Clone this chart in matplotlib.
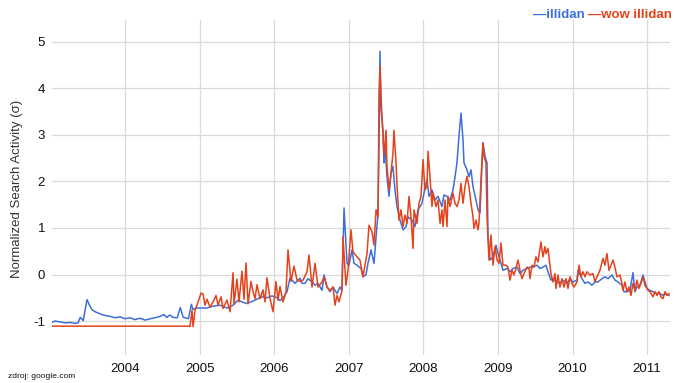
import matplotlib
matplotlib.use("Agg")
import matplotlib.pyplot as plt

plt.rcParams['font.family'] = ['Liberation Sans', 'DejaVu Sans']

# ---- data (decimal years, normalized search activity) ----
illidan_t = [2003.02, 2003.06, 2003.13, 2003.20, 2003.26, 2003.33, 2003.37, 2003.40, 2003.44,
             2003.49, 2003.53, 2003.56, 2003.60, 2003.67, 2003.73, 2003.80, 2003.87, 2003.93,
             2004.00, 2004.07, 2004.13, 2004.20, 2004.27, 2004.34, 2004.40, 2004.47, 2004.52,
             2004.56, 2004.60, 2004.64, 2004.70, 2004.74, 2004.78, 2004.85, 2004.89, 2004.91,
             2004.97,
             2005.099, 2005.180, 2005.273, 2005.367, 2005.448, 2005.515, 2005.582, 2005.635,
             2005.702, 2005.769, 2005.836, 2005.903, 2005.971, 2006.038, 2006.078, 2006.118,
             2006.172, 2006.212, 2006.279, 2006.346, 2006.373, 2006.413, 2006.453, 2006.507,
             2006.547, 2006.587, 2006.641, 2006.668, 2006.708, 2006.748, 2006.789, 2006.842,
             2006.882, 2006.909, 2006.936, 2006.976, 2007.003, 2007.043, 2007.070, 2007.110,
             2007.164, 2007.190, 2007.231, 2007.257, 2007.298, 2007.338, 2007.378, 2007.391,
             2007.405, 2007.418, 2007.432, 2007.458, 2007.472, 2007.485, 2007.512, 2007.539,
             2007.566, 2007.592, 2007.619, 2007.646, 2007.686, 2007.727, 2007.767, 2007.794,
             2007.847, 2007.887, 2007.928, 2007.981, 2008.008, 2008.048, 2008.075, 2008.115,
             2008.155, 2008.196, 2008.249, 2008.276, 2008.316, 2008.357, 2008.397, 2008.424,
             2008.450, 2008.477, 2008.504, 2008.531, 2008.544, 2008.584, 2008.611, 2008.638,
             2008.665, 2008.705, 2008.732, 2008.759, 2008.786, 2008.799, 2008.826, 2008.853,
             2008.866, 2008.893, 2008.933, 2008.973, 2009.000, 2009.040, 2009.067, 2009.121,
             2009.161, 2009.201, 2009.255, 2009.295, 2009.335, 2009.389, 2009.429, 2009.469,
             2009.523, 2009.563, 2009.603, 2009.643, 2009.670, 2009.710, 2009.737, 2009.791,
             2009.831, 2009.871, 2009.925, 2009.965, 2010.005, 2010.059, 2010.072, 2010.126,
             2010.166, 2010.206, 2010.260, 2010.300, 2010.340, 2010.394, 2010.434, 2010.475,
             2010.528, 2010.568, 2010.609, 2010.662, 2010.689, 2010.729, 2010.769, 2010.810,
             2010.836, 2010.863, 2010.903, 2010.944, 2010.997, 2011.038, 2011.078, 2011.131,
             2011.172, 2011.212, 2011.252, 2011.292]
illidan_v = [-1.03, -1.00, -1.02, -1.04, -1.03, -1.05, -1.04, -0.92, -0.99,
             -0.54, -0.68, -0.76, -0.80, -0.85, -0.88, -0.90, -0.93, -0.91,
             -0.95, -0.93, -0.97, -0.94, -0.98, -0.95, -0.93, -0.90, -0.86,
             -0.92, -0.87, -0.92, -0.93, -0.71, -0.92, -0.95, -0.64, -0.75,
             -0.72,
             -0.72, -0.68, -0.66, -0.72, -0.66, -0.55, -0.60, -0.62,
             -0.58, -0.53, -0.48, -0.50, -0.46, -0.50, -0.56, -0.50,
             -0.37, -0.07, -0.19, -0.08, -0.19, -0.19, -0.09, -0.16,
             -0.23, -0.19, -0.34, -0.01, -0.27, -0.37, -0.27, -0.41,
             -0.27, -0.34, 1.43, 0.24, 0.20, 0.53, 0.24, 0.20,
             0.13, -0.05, 0.00, 0.24, 0.53, 0.24, 1.06, 1.28,
             2.76, 4.80, 3.55, 3.10, 2.40, 2.76, 2.10, 1.68,
             2.18, 2.32, 1.82, 1.46, 1.17, 0.96, 1.03, 1.24,
             1.17, 1.03, 1.39, 1.53, 1.75, 2.04, 1.68, 1.82,
             1.60, 1.68, 1.46, 1.71, 1.68, 1.60, 1.82, 2.10,
             2.40, 2.97, 3.47, 2.90, 2.40, 2.25, 2.10, 2.25,
             1.89, 1.60, 1.39, 1.32, 2.40, 2.83, 2.54, 2.40,
             0.81, 0.31, 0.38, 0.63, 0.45, 0.24, 0.09, 0.13,
             0.06, 0.13, 0.16, 0.02, 0.09, 0.13, 0.16, 0.16,
             0.20, 0.13, 0.16, 0.20, 0.06, -0.12, -0.09, -0.16,
             -0.19, -0.12, -0.19, -0.09, -0.16, -0.12, 0.09, -0.09,
             -0.19, -0.16, -0.23, -0.16, -0.16, -0.09, -0.05, -0.09,
             -0.01, -0.12, -0.16, -0.23, -0.37, -0.37, -0.34, 0.04,
             -0.37, -0.27, -0.23, -0.01, -0.30, -0.34, -0.37, -0.41,
             -0.41, -0.45, -0.41, -0.45]

wow_t = [2003.02, 2004.858, 2004.871, 2004.898, 2004.912, 2004.938, 2004.979, 2005.019,
         2005.046, 2005.072, 2005.099, 2005.139, 2005.180, 2005.220, 2005.247, 2005.287,
         2005.314, 2005.367, 2005.408, 2005.448, 2005.461, 2005.501, 2005.528, 2005.568,
         2005.595, 2005.622, 2005.649, 2005.689, 2005.716, 2005.743, 2005.769, 2005.810,
         2005.850, 2005.877, 2005.903, 2005.944, 2005.984, 2006.024, 2006.051, 2006.078,
         2006.118, 2006.158, 2006.185, 2006.225, 2006.265, 2006.306, 2006.346, 2006.386,
         2006.440, 2006.466, 2006.507, 2006.547, 2006.587, 2006.641, 2006.668, 2006.708,
         2006.748, 2006.789, 2006.815, 2006.842, 2006.869, 2006.909, 2006.922, 2006.962,
         2006.989, 2007.029, 2007.056, 2007.110, 2007.150, 2007.190, 2007.244, 2007.271,
         2007.311, 2007.338, 2007.365, 2007.391, 2007.405, 2007.418, 2007.432, 2007.458,
         2007.472, 2007.499, 2007.512, 2007.539, 2007.566, 2007.592, 2007.606, 2007.633,
         2007.646, 2007.673, 2007.700, 2007.727, 2007.753, 2007.780, 2007.807, 2007.834,
         2007.861, 2007.874, 2007.914, 2007.941, 2007.968, 2007.995, 2008.021, 2008.048,
         2008.062, 2008.088, 2008.115, 2008.129, 2008.169, 2008.196, 2008.223, 2008.249,
         2008.263, 2008.290, 2008.316, 2008.330, 2008.357, 2008.397, 2008.424, 2008.450,
         2008.477, 2008.504, 2008.531, 2008.558, 2008.584, 2008.611, 2008.638, 2008.665,
         2008.678, 2008.705, 2008.732, 2008.745, 2008.772, 2008.799, 2008.812, 2008.839,
         2008.853, 2008.879, 2008.906, 2008.933, 2008.960, 2008.987, 2009.013, 2009.040,
         2009.067, 2009.107, 2009.134, 2009.161, 2009.188, 2009.214, 2009.241, 2009.268,
         2009.295, 2009.322, 2009.349, 2009.389, 2009.416, 2009.429, 2009.456, 2009.483,
         2009.509, 2009.536, 2009.576, 2009.603, 2009.630, 2009.643, 2009.670, 2009.710,
         2009.737, 2009.764, 2009.777, 2009.804, 2009.831, 2009.858, 2009.885, 2009.912,
         2009.938, 2009.965, 2009.992, 2010.019, 2010.059, 2010.086, 2010.113, 2010.139,
         2010.166, 2010.193, 2010.233, 2010.273, 2010.300, 2010.327, 2010.367, 2010.408,
         2010.434, 2010.461, 2010.488, 2010.515, 2010.542, 2010.568, 2010.595, 2010.635,
         2010.662, 2010.676, 2010.702, 2010.729, 2010.756, 2010.783, 2010.810, 2010.836,
         2010.863, 2010.890, 2010.917, 2010.944, 2010.971, 2011.011, 2011.038, 2011.078,
         2011.105, 2011.131, 2011.158, 2011.185, 2011.212, 2011.239, 2011.265, 2011.292]
wow_v = [-1.11, -1.11, -1.12, -0.77, -1.12, -0.77, -0.59, -0.40,
         -0.42, -0.66, -0.53, -0.70, -0.59, -0.45, -0.66, -0.48,
         -0.73, -0.55, -0.80, 0.04, -0.63, -0.10, -0.59, 0.07,
         -0.53, 0.25, -0.63, -0.15, -0.37, -0.52, -0.22, -0.52,
         -0.33, -0.59, -0.07, -0.52, -0.80, -0.15, -0.55, -0.26,
         -0.59, -0.37, 0.53, -0.15, 0.18, -0.12, -0.15, -0.12,
         0.06, 0.42, -0.27, 0.24, -0.27, -0.16, -0.05, -0.27,
         -0.34, -0.27, -0.66, -0.45, -0.59, -0.34, 0.81, -0.23,
         0.09, 0.96, 0.49, 0.38, 0.31, -0.05, 0.45, 1.06,
         0.92, 0.63, 1.39, 1.24, 3.83, 4.48, 3.83, 2.97,
         2.54, 3.10, 2.32, 1.82, 2.18, 2.61, 3.10, 2.40,
         1.93, 1.17, 1.39, 1.03, 1.28, 1.10, 1.68, 1.24,
         0.56, 1.39, 1.10, 1.53, 1.68, 2.47, 1.82, 1.89,
         2.65, 2.11, 1.46, 1.75, 1.46, 1.60, 1.10, 1.39,
         1.03, 1.60, 1.03, 1.68, 1.46, 1.75, 1.53, 1.46,
         1.60, 1.96, 1.53, 1.89, 2.11, 1.89, 1.53, 1.24,
         0.99, 1.17, 0.96, 1.10, 2.04, 2.83, 2.54, 2.40,
         1.24, 0.31, 0.85, 0.20, 0.60, 0.31, 0.24, 0.68,
         0.20, 0.20, 0.16, -0.12, 0.09, -0.01, 0.13, 0.31,
         0.09, -0.09, 0.02, 0.16, 0.13, -0.09, 0.20, 0.16,
         0.38, 0.27, 0.70, 0.38, 0.60, 0.45, 0.56, 0.02,
         -0.16, 0.02, -0.30, -0.01, -0.27, -0.09, -0.27, -0.09,
         -0.30, -0.05, -0.19, -0.27, -0.16, 0.20, -0.05, 0.06,
         -0.05, 0.06, -0.01, 0.02, -0.16, -0.05, 0.09, 0.35,
         0.20, 0.45, 0.09, 0.20, 0.31, 0.16, -0.05, -0.01,
         -0.19, -0.34, -0.16, -0.37, -0.27, -0.45, -0.19, -0.34,
         -0.12, -0.30, -0.19, -0.05, -0.23, -0.34, -0.37, -0.48,
         -0.37, -0.45, -0.37, -0.48, -0.52, -0.37, -0.45, -0.41]

year_ticks = [2004, 2005, 2006, 2007, 2008, 2009, 2010, 2011]
y_ticks = [-1, 0, 1, 2, 3, 4, 5]

series_names = ["illidan", "wow illidan"]
blue = '#3d6fd8'
red = '#e4421b'

# ---- figure ----
fig = plt.figure(figsize=(7.0, 3.83), dpi=100)
ax = fig.add_axes([52/700, 1 - 355/383, (670 - 52)/700, (355 - 20)/383])

ax.plot(illidan_t, illidan_v, color=blue, lw=1.1, zorder=3)
ax.plot(wow_t, wow_v, color=red, lw=1.1, zorder=4)

ax.set_xlim(2003.021, 2011.306)
ax.set_ylim(-1.73, 5.47)
ax.set_xticks(year_ticks)
ax.set_xticklabels([str(y) for y in year_ticks])
ax.set_yticks(y_ticks)
ax.set_yticklabels([str(v) for v in y_ticks])
ax.grid(True, color='#dadada', lw=0.9)
ax.set_axisbelow(True)
for s in ax.spines.values():
    s.set_visible(False)
ax.tick_params(length=0, labelsize=9.5, colors='#111111')
ax.tick_params(axis='x', pad=6)
ax.tick_params(axis='y', pad=5)

fig.text(17/700, 1 - 189/383, "Normalized Search Activity (σ)", rotation=90,
         ha='center', va='center', fontsize=9.5, color='#333333')
fig.text(8/700, 1 - 377/383, "zdroj: google.com", ha='left', va='center',
         fontsize=6, color='#111111')

# legend (colored text labels)
fig.text(672/700, 1 - 15/383, "\u2014" + series_names[1], ha='right', va='center',
         fontsize=9.5, fontweight='bold', color=red)
fig.text(585/700, 1 - 15/383, "\u2014" + series_names[0], ha='right', va='center',
         fontsize=9.5, fontweight='bold', color=blue)

fig.savefig("out.png", dpi=100)
